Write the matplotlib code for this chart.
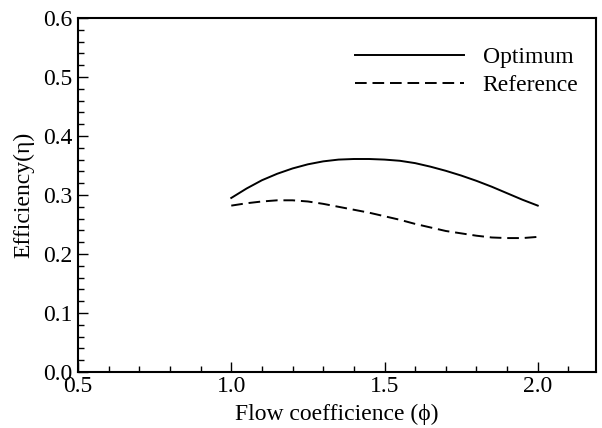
import matplotlib
matplotlib.use('Agg')
import matplotlib.pyplot as plt
from matplotlib.ticker import MultipleLocator

plt.rcParams['font.family'] = ['Liberation Serif', 'DejaVu Serif']

# datos
phi = [1.0, 1.05, 1.1, 1.15, 1.2, 1.25, 1.3, 1.35, 1.4, 1.45, 1.5,
       1.55, 1.6, 1.65, 1.7, 1.75, 1.8, 1.85, 1.9, 1.95, 2.0]
eta_optimum = [0.295, 0.311, 0.325, 0.336, 0.345, 0.352, 0.357, 0.360, 0.361, 0.361, 0.360,
               0.358, 0.354, 0.348, 0.341, 0.333, 0.324, 0.314, 0.303, 0.292, 0.282]
eta_reference = [0.282, 0.286, 0.289, 0.291, 0.291, 0.289, 0.285, 0.280, 0.275, 0.270, 0.264,
                 0.258, 0.251, 0.245, 0.239, 0.235, 0.231, 0.228, 0.227, 0.227, 0.229]

fig = plt.figure(figsize=(6.02, 4.28), dpi=100)
ax = fig.add_axes([0.1296, 0.1308, 0.8604, 0.8272])

ax.plot(phi, eta_optimum, color='black', lw=1.4, label='Optimum')
ax.plot(phi, eta_reference, color='black', lw=1.4, dashes=(6, 3), label='Reference')

ax.set_xlim(0.5, 2.19)
ax.set_ylim(0.0, 0.6)
ax.xaxis.set_major_locator(MultipleLocator(0.5))
ax.xaxis.set_minor_locator(MultipleLocator(0.1))
ax.yaxis.set_major_locator(MultipleLocator(0.1))
ax.yaxis.set_minor_locator(MultipleLocator(0.02))
ax.xaxis.set_major_formatter(plt.FormatStrFormatter('%.1f'))
ax.yaxis.set_major_formatter(plt.FormatStrFormatter('%.1f'))

ax.tick_params(which='both', direction='in', top=False, right=False,
               labelsize=17, width=1.0)
ax.tick_params(which='major', length=7)
ax.tick_params(which='minor', length=4)
ax.tick_params(axis='x', pad=3)
ax.tick_params(axis='y', pad=4)
for s in ax.spines.values():
    s.set_linewidth(1.5)

ax.set_xlabel('Flow coefficience (\u03d5)', fontsize=17, labelpad=5)
ax.set_ylabel('Efficiency(\u03b7)', fontsize=17, labelpad=6)

ax.legend(loc='upper right', bbox_to_anchor=(1.012, 0.985), frameon=False,
          fontsize=17, handlelength=4.6, handletextpad=0.8, labelspacing=0.25,
          borderaxespad=0.6)

fig.savefig('out.png', dpi=100)
